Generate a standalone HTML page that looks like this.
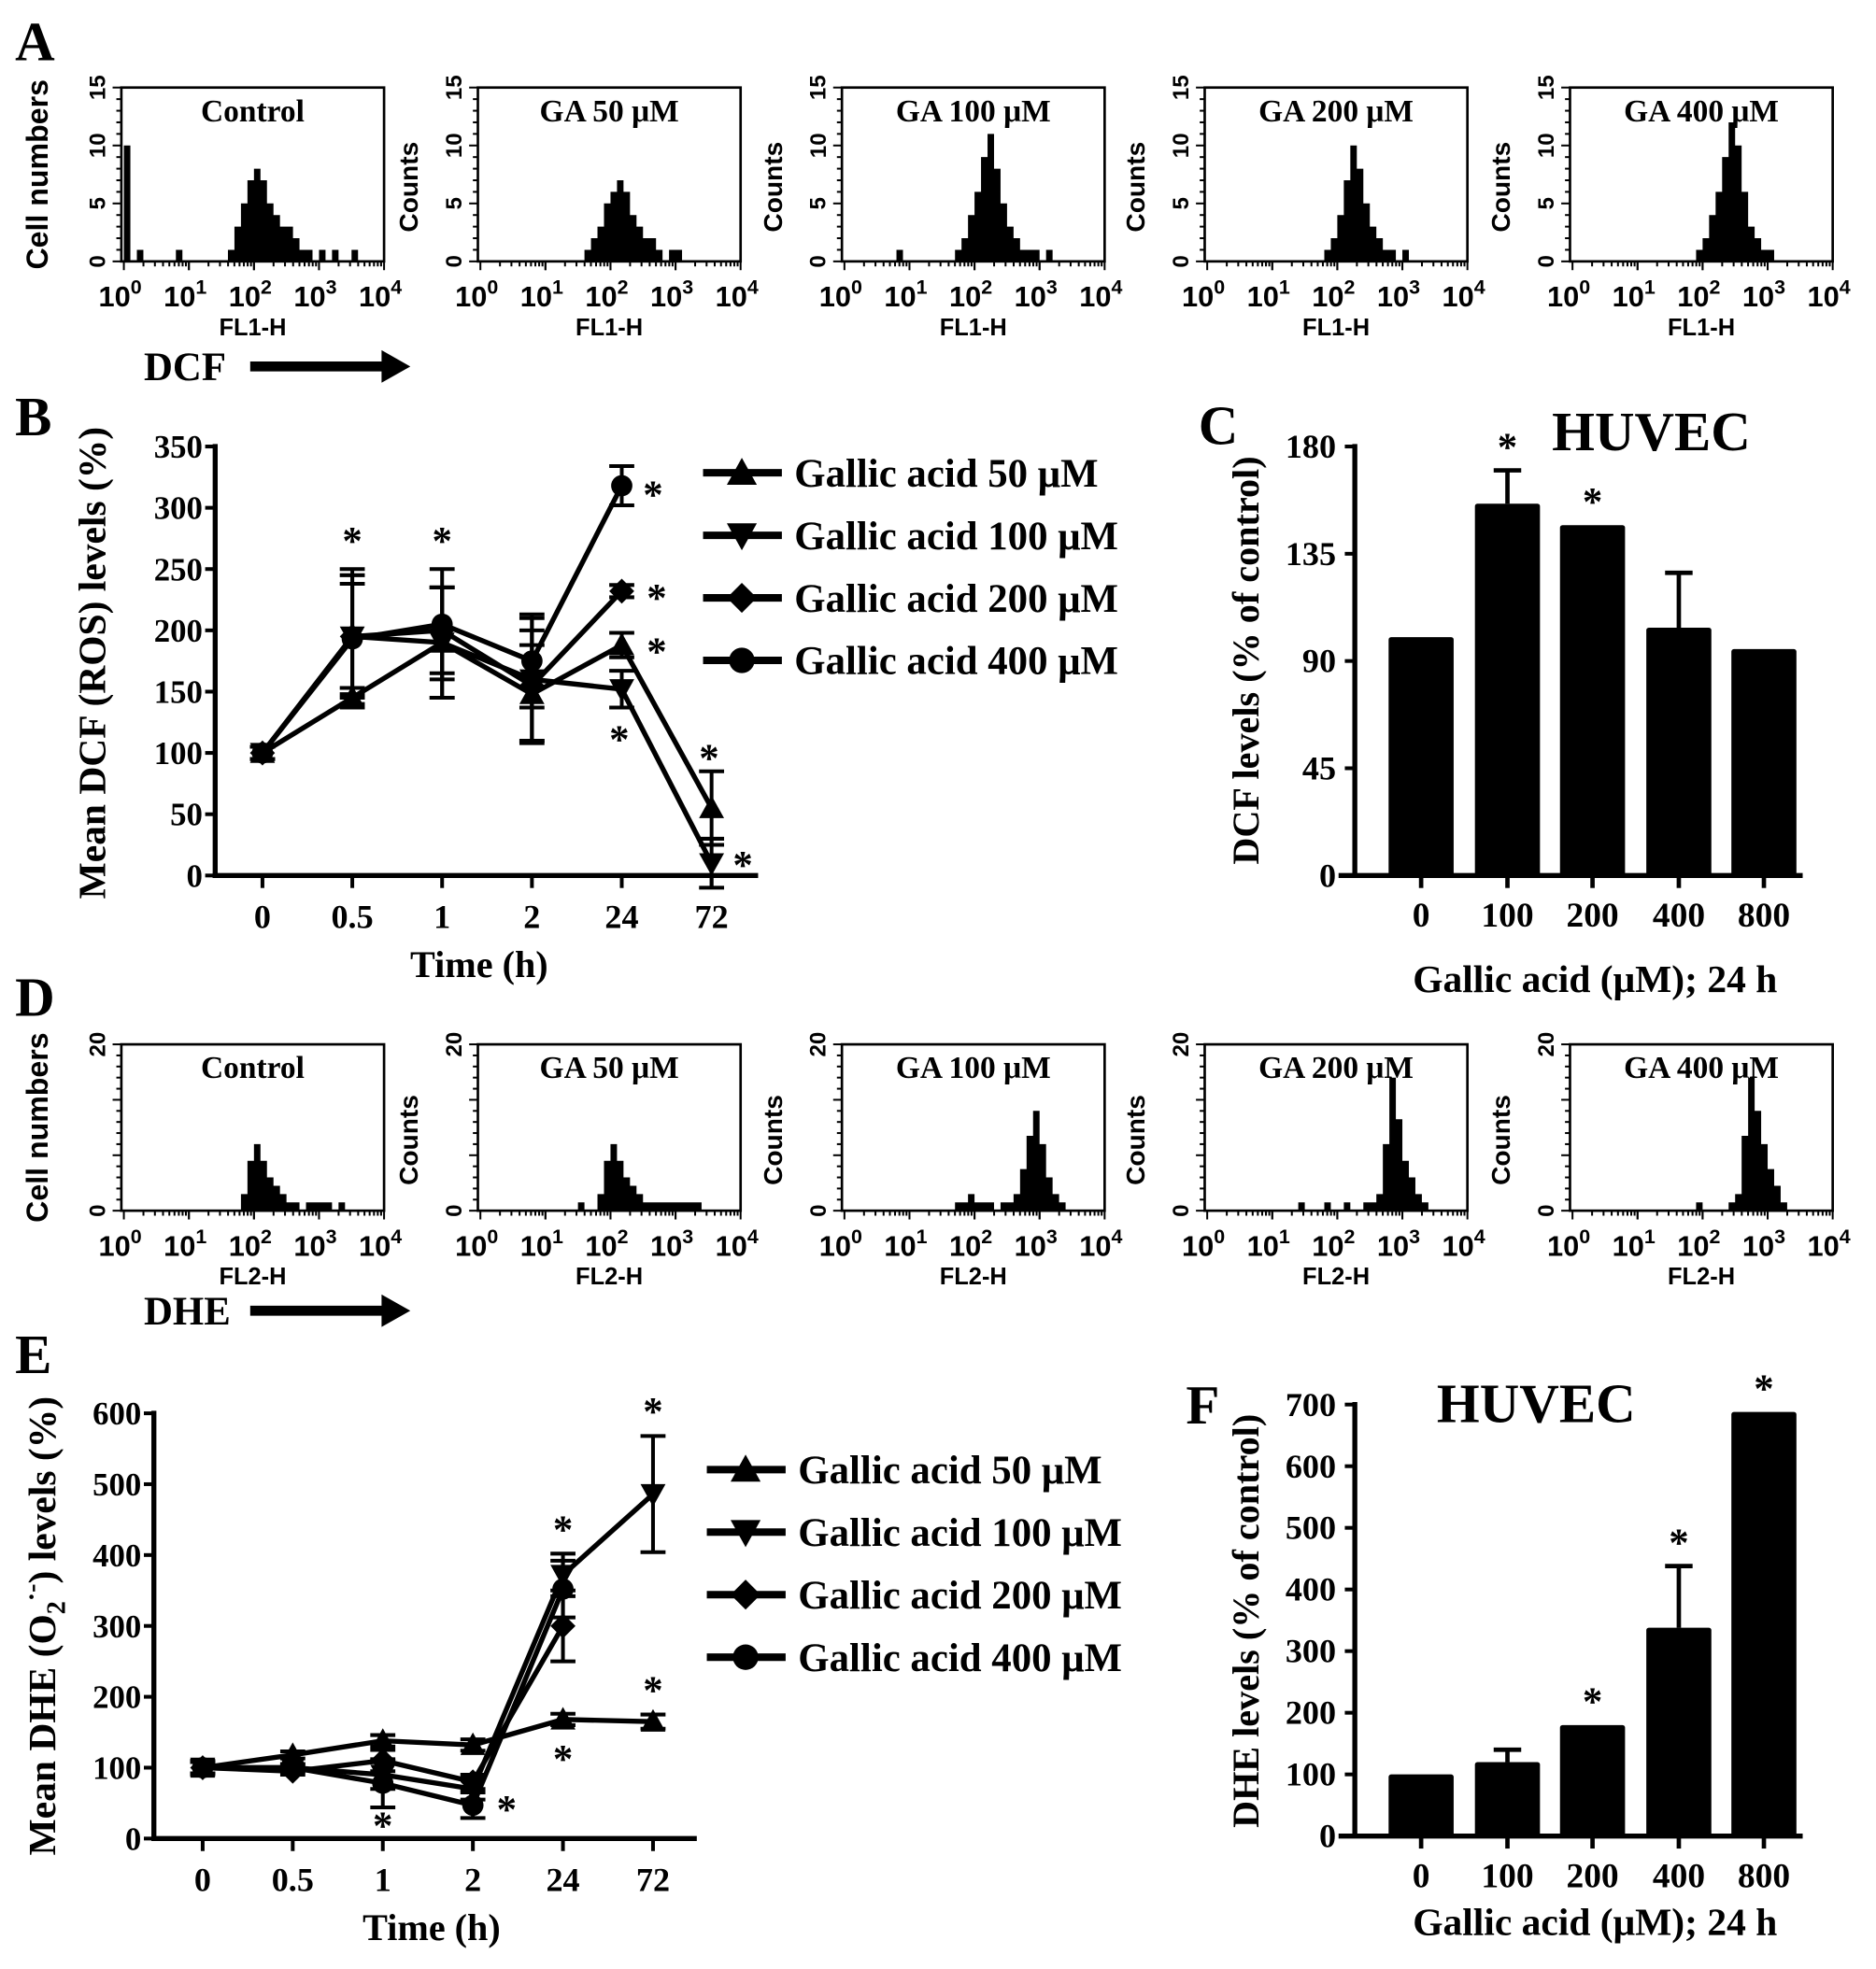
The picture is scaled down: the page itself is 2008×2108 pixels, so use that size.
<!DOCTYPE html>
<html><head><meta charset="utf-8"><style>
html,body{margin:0;padding:0;background:#fff;}
svg{display:block;}
text{font-family:"Liberation Serif",serif;font-weight:bold;fill:#000;}
.sans{font-family:"Liberation Sans",sans-serif;}
</style></head><body>
<svg id="fig" xmlns="http://www.w3.org/2000/svg" width="2008" height="2108" viewBox="0 0 1499.6 1574.3">
<rect width="1499.6" height="1574.3" fill="#fff"/>
<g id="root"></g>
</svg>
<script>
// ---------- DATA ----------
const histXTicks = ["0","1","2","3","4"];
const histTitles = ["Control","GA 50 μM","GA 100 μM","GA 200 μM","GA 400 μM"];
// DCF histograms (40 bins over 4 log decades), y max 15
const dcfCtrl = [10,0,1,0,0,0,0,0,1,0, 0,0,0,0,0,0,1,3,5,7, 8,7,5,4,3,3,2,1,1,0, 1,0,1,0,0,1,0,0,0,0];
const dcf50   = [0,0,0,0,0,0,0,0,0,0, 0,0,0,0,0,0,1,2,3,5, 6,7,6,4,3,2,2,1,0,1, 1,0,0,0,0,0,0,0,0,0];
const dcf100  = [0,0,0,0,0,0,0,0,1,0, 0,0,0,0,0,0,0,1,2,4, 6,9,11,8,5,3,2,1,1,1, 0,1,0,0,0,0,0,0,0,0];
const dcf200  = [0,0,0,0,0,0,0,0,0,0, 0,0,0,0,0,0,0,0,1,2, 4,7,10,8,5,3,2,1,1,0, 1,0,0,0,0,0,0,0,0,0];
const dcf400  = [0,0,0,0,0,0,0,0,0,0, 0,0,0,0,0,0,0,0,0,1, 2,4,6,9,12,10,6,3,2,1, 1,0,0,0,0,0,0,0,0,0];
// DHE histograms, y max 20
const dheCtrl = [0,0,0,0,0,0,0,0,0,0, 0,0,0,0,0,0,0,0,2,6, 8,6,4,3,2,1,1,0,1,1, 1,1,0,1,0,0,0,0,0,0];
const dhe50   = [0,0,0,0,0,0,0,0,0,0, 0,0,0,0,0,1,0,0,2,6, 8,6,4,3,2,1,1,1,1,1, 1,1,1,1,0,0,0,0,0,0];
const dhe100  = [0,0,0,0,0,0,0,0,0,0, 0,0,0,0,0,0,0,1,1,2, 1,1,1,0,1,1,2,5,9,12, 8,4,2,1,0,0,0,0,0,0];
const dhe200  = [0,0,0,0,0,0,0,0,0,0, 0,0,0,0,1,0,0,0,1,0, 0,1,0,0,1,1,2,8,16,11, 6,4,2,1,0,0,0,0,0,0];
const dhe400  = [0,0,0,0,0,0,0,0,0,0, 0,0,0,0,0,0,0,0,0,1, 0,0,0,0,1,2,9,16,12,8, 5,3,1,0,0,0,0,0,0,0];

// Line chart B
const timeCats = ["0","0.5","1","2","24","72"];
const bTicks = [0,50,100,150,200,250,300,350];
const b50  = [100,145,190,148,188,55];
const b100 = [100,195,190,160,152,10];
const b200 = [100,195,200,155,232,null];
const b400 = [100,193,205,175,318,null];
const b50err  = [5,8,45,40,10,30];
const b100err = [5,55,45,50,15,20];
const b200err = [5,50,35,45,5,0];
const b400err = [5,45,45,38,16,0];
// Line chart E
const eTicks = [0,100,200,300,400,500,600];
const e50  = [100,118,138,132,168,165];
const e100 = [100,100,90,70,372,486];
const e200 = [100,95,110,80,300,null];
const e400 = [100,100,78,47,352,null];
const e50err  = [10,5,8,8,8,10];
const e100err = [8,5,20,15,30,82];
const e200err = [8,5,15,10,50,0];
const e400err = [8,5,34,18,40,0];
// Bar chart C
const doseCats = ["0","100","200","400","800"];
const cTicks = [0,45,90,135,180];
const cVals = [100,156,147,104,95];
const cErr  = [0,14,0,23,0];
const cStars = [false,true,true,false,false];
// Bar chart F
const fTicks = [0,100,200,300,400,500,600,700];
const fVals = [100,120,180,338,688];
const fErr  = [0,20,0,100,0];
const fStars = [false,false,true,true,true];

// ---------- HELPERS ----------
const NS="http://www.w3.org/2000/svg";
const root=document.getElementById('root');
function el(tag,attrs,parent,txt){const e=document.createElementNS(NS,tag);for(const k in attrs)e.setAttribute(k,attrs[k]);if(txt!==undefined)e.textContent=txt;(parent||root).appendChild(e);return e;}
function T(x,y,s,size,parent,anchor,extra){const t=el('text',Object.assign({x:x,y:y,'font-size':size,'text-anchor':anchor||'middle'},extra||{}),parent,s);return t;}

// panel letters
[["A",12,48],["B",12,348],["C",958,355],["D",12,812],["E",12,1098],["F",948,1138]].forEach(p=>{
  const t=T(p[1],p[2],p[0],44,root,'start');
  
  
});

// ---------- HISTOGRAMS ----------
const boxXs=[97,382,673,963,1255];
function histRow(top,bottom,datasets,ymax,yTickLabels,xlab,rowName){
  const g=el('g',{});
  
  
  datasets.forEach((d,i)=>{
    const x0=boxXs[i], x1=x0+210;
    const hg=el('g',{},g);
    
    
    const sx=v=>x0+2+(x1-x0-2)*v/4;
    const sy=c=>bottom-(bottom-top)*c/ymax;
    let pts=[[sx(0),bottom]];
    d.forEach((c,k)=>{pts.push([sx(k*0.1),sy(c)]);pts.push([sx((k+1)*0.1),sy(c)]);});
    pts.push([sx(4),bottom]);
    const poly=el('polygon',{points:pts.map(p=>p.join(',')).join(' '),fill:'#000'},hg);
    
    
    const box=el('rect',{x:x0,y:top,width:x1-x0,height:bottom-top,fill:'none',stroke:'#000','stroke-width':2},hg);
    
    
    for(let dcd=0;dcd<4;dcd++){for(let m=1;m<=10;m++){const xx=sx(dcd+Math.log10(m));el('line',{x1:xx,y1:bottom,x2:xx,y2:bottom+(m===10||m===1?7:4),stroke:'#000','stroke-width':1.5},hg);}}
    for(let k=0;k<=15;k++){const yy=bottom-(bottom-top)*k/15;el('line',{x1:x0,y1:yy,x2:x0-(k%5===0?7:4),y2:yy,stroke:'#000','stroke-width':1.5},hg);}
    histXTicks.forEach((s,k)=>{const t=el('text',{x:sx(k)-3,y:bottom+36,'font-size':23,'text-anchor':'middle',class:'sans'},hg);t.textContent='10';el('tspan',{dy:-10,'font-size':16},t,s);});
    T(x0+105,bottom+59,xlab,19,hg,'middle',{class:'sans'});
    yTickLabels.forEach((s,k)=>{const yy=bottom-(bottom-top)*k/(yTickLabels.length-1);T(x0-13,yy,s,18,hg,'middle',{class:'sans',transform:`rotate(-90 ${x0-13} ${yy})`});});
    if(i===0){T(38,(top+bottom)/2,'Cell numbers',24,hg,'middle',{class:'sans',transform:`rotate(-90 38 ${(top+bottom)/2})`});}
    else{T(x0-48,(top+bottom)/2+10,'Counts',21,hg,'middle',{class:'sans',transform:`rotate(-90 ${x0-48} ${(top+bottom)/2+10})`});}
    const tt=T(x0+105,top+27,histTitles[i],25,hg);
    
    
  });
  return g;
}
histRow(70,209,[dcfCtrl,dcf50,dcf100,dcf200,dcf400],15,["0","5","10","15"],"FL1-H","dcf-histograms");
histRow(835,968,[dheCtrl,dhe50,dhe100,dhe200,dhe400],20,["0","20"],"FL2-H","dhe-histograms");
function arrow(label,y,name){
  const g=el('g',{});
  
  
  T(115,y+11,label,32,g,'start');
  el('polygon',{points:`200,${y-4} 305,${y-4} 305,${y-13} 328,${y} 305,${y+13} 305,${y+4} 200,${y+4}`,fill:'#000'},g);
}
arrow('DCF',293,'dcf-arrow');
arrow('DHE',1048,'dhe-arrow');

// ---------- LINE CHARTS ----------
function marker(g,type,x,y,s){
  let e;
  if(type==='tri') e=el('polygon',{points:`${x},${y-s} ${x-s},${y+s*0.8} ${x+s},${y+s*0.8}`,fill:'#000'},g);
  else if(type==='inv') e=el('polygon',{points:`${x},${y+s} ${x-s},${y-s*0.8} ${x+s},${y-s*0.8}`,fill:'#000'},g);
  else if(type==='dia') e=el('polygon',{points:`${x},${y-s} ${x+s},${y} ${x},${y+s} ${x-s},${y}`,fill:'#000'},g);
  else e=el('circle',{cx:x,cy:y,r:s*0.85,fill:'#000'},g);
  
  
}
function lineChart(cfg){
  const g=el('g',{});
  
  
  const ymax=cfg.ticks[cfg.ticks.length-1];
  const sy=v=>cfg.y0-(cfg.y0-cfg.y1)*v/ymax;
  const sx=i=>cfg.x0+cfg.dx*(i+1);
  const ya=el('line',{x1:cfg.ax,y1:cfg.y1-2,x2:cfg.ax,y2:cfg.y0+2,stroke:'#000','stroke-width':4},g);
  
  const xa=el('line',{x1:cfg.ax-2,y1:cfg.y0,x2:cfg.xend,y2:cfg.y0,stroke:'#000','stroke-width':4},g);
  
  cfg.ticks.forEach(t=>{el('line',{x1:cfg.ax-8,y1:sy(t),x2:cfg.ax,y2:sy(t),stroke:'#000','stroke-width':3},g);
    const tl=T(cfg.ax-10,sy(t)+9,String(t),26,g,'end');});
  timeCats.forEach((c,i)=>{el('line',{x1:sx(i),y1:cfg.y0,x2:sx(i),y2:cfg.y0+10,stroke:'#000','stroke-width':3},g);
    const tl=T(sx(i),cfg.y0+42,c,27,g);});
  const xt=T(cfg.xtitleX,cfg.y0+81,'Time (h)',30,g);
  const yt=el('text',{x:cfg.ytx,y:cfg.ytc,'font-size':31,'text-anchor':'middle',transform:`rotate(-90 ${cfg.ytx} ${cfg.ytc})`},g);
  
  cfg.ytitle(yt);
  const types=['tri','inv','dia','circ'];
  cfg.series.forEach((s,k)=>{
    const sg=el('g',{},g);
    
    
    const pts=[];s.forEach((v,i)=>{if(v!==null)pts.push([sx(i),sy(v)]);});
    el('polyline',{points:pts.map(p=>p.join(',')).join(' '),fill:'none',stroke:'#000','stroke-width':4},sg);
    s.forEach((v,i)=>{if(v===null)return;const e=cfg.errs[k][i];if(e>0){
      el('line',{x1:sx(i),y1:sy(v-e),x2:sx(i),y2:sy(v+e),stroke:'#000','stroke-width':3},sg);
      el('line',{x1:sx(i)-10,y1:sy(v+e),x2:sx(i)+10,y2:sy(v+e),stroke:'#000','stroke-width':3},sg);
      el('line',{x1:sx(i)-10,y1:sy(v-e),x2:sx(i)+10,y2:sy(v-e),stroke:'#000','stroke-width':3},sg);}
      marker(sg,types[k],sx(i),sy(v),10);});
  });
  cfg.stars.forEach(st=>{const s=T(sx(st[0])+st[2],sy(st[1])+st[3],'*',32,g);});
  cfg.labels.forEach((lab,k)=>{
    const ly=cfg.legY+50*k;
    const lg=el('g',{},g);
    
    
    el('line',{x1:cfg.legX,y1:ly,x2:cfg.legX+63,y2:ly,stroke:'#000','stroke-width':6},lg);
    marker(lg,types[k],cfg.legX+31,ly,12);
    const t=T(cfg.legX+73,ly+11,'',32,lg,'start');
    t.textContent=lab;
  });
}
lineChart({name:'chart-b-dcf-time',x0:138,dx:71.8,ax:172,xend:606,y0:700,y1:357,ticks:bTicks,
  series:[b50,b100,b200,b400],errs:[b50err,b100err,b200err,b400err],
  labels:['Gallic acid 50 μM','Gallic acid 100 μM','Gallic acid 200 μM','Gallic acid 400 μM'],
  legX:562,legY:378,xtitleX:383,ytx:84,ytc:530,
  ytitle:t=>{t.textContent='Mean DCF (ROS) levels (%)';},
  stars:[[1,262,0,0],[2,262,0,0],[4,318,25,18],[4,232,28,16],[4,188,28,16],[4,100,-2,0],[5,85,-2,0],[5,10,25,12]]});
lineChart({name:'chart-e-dhe-time',x0:90,dx:72,ax:123,xend:557,y0:1470,y1:1130,ticks:eTicks,
  series:[e50,e100,e200,e400],errs:[e50err,e100err,e200err,e400err],
  labels:['Gallic acid 50 μM','Gallic acid 100 μM','Gallic acid 200 μM','Gallic acid 400 μM'],
  legX:565,legY:1175,xtitleX:345,ytx:44,ytc:1300,
  ytitle:t=>{t.textContent='Mean DHE (O';el('tspan',{dy:8,'font-size':21},t,'2');el('tspan',{dy:-20,'font-size':21},t,'·-');el('tspan',{dy:12},t,') levels (%)');},
  stars:[[2,10,0,6],[3,47,27,14],[4,410,0,-4],[4,120,0,15],[5,575,0,-5],[5,185,0,-3]]});

// ---------- BAR CHARTS ----------
function barChart(cfg){
  const g=el('g',{});
  
  
  const ymax=cfg.ticks[cfg.ticks.length-1];
  const sy=v=>cfg.y0-(cfg.y0-cfg.y1)*v/ymax;
  const cx=[1136,1205,1273,1342,1410];
  const bw=52;
  cfg.vals.forEach((v,i)=>{
    const b=el('rect',{x:cx[i]-bw/2,y:sy(v),width:bw,height:cfg.y0-sy(v),fill:'#000',rx:2},g);
    
    
    const e=cfg.errs[i];
    if(e>0){el('line',{x1:cx[i],y1:sy(v),x2:cx[i],y2:sy(v+e),stroke:'#000','stroke-width':3.5},g);
      el('line',{x1:cx[i]-11,y1:sy(v+e),x2:cx[i]+11,y2:sy(v+e),stroke:'#000','stroke-width':3.5},g);}
    if(cfg.stars[i]){const s=T(cx[i],sy(v+e)-8,'*',32,g);}
    el('line',{x1:cx[i],y1:cfg.y0,x2:cx[i],y2:cfg.y0+10,stroke:'#000','stroke-width':3.5},g);
    const tl=T(cx[i],cfg.y0+41,doseCats[i],28,g);
  });
  const ya=el('line',{x1:1083,y1:cfg.y1-2,x2:1083,y2:cfg.y0,stroke:'#000','stroke-width':4},g);
  
  const xa=el('line',{x1:1070,y1:cfg.y0,x2:1441,y2:cfg.y0,stroke:'#000','stroke-width':4},g);
  
  cfg.ticks.forEach(t=>{el('line',{x1:1075,y1:sy(t),x2:1083,y2:sy(t),stroke:'#000','stroke-width':3},g);
    const tl=T(1068,sy(t)+9,String(t),27,g,'end');});
  const xt=T(1275,cfg.xtY,'Gallic acid (μM); 24 h',31,g);
  const yt=T(cfg.ytx,cfg.ytc,cfg.ytitle,30,g,'middle',{transform:`rotate(-90 ${cfg.ytx} ${cfg.ytc})`});
  
  const h=T(cfg.hx,cfg.hy,'HUVEC',44,g);
}
barChart({name:'chart-c-dcf-bars',y0:700,y1:357,ticks:cTicks,vals:cVals,errs:cErr,stars:cStars,xtY:793,ytx:1006,ytc:528,ytitle:'DCF levels (% of control)',hx:1320,hy:360});
barChart({name:'chart-f-dhe-bars',y0:1468,y1:1123,ticks:fTicks,vals:fVals,errs:fErr,stars:fStars,xtY:1547,ytx:1006,ytc:1296,ytitle:'DHE levels (% of control)',hx:1228,hy:1137});
</script>
</body></html>
